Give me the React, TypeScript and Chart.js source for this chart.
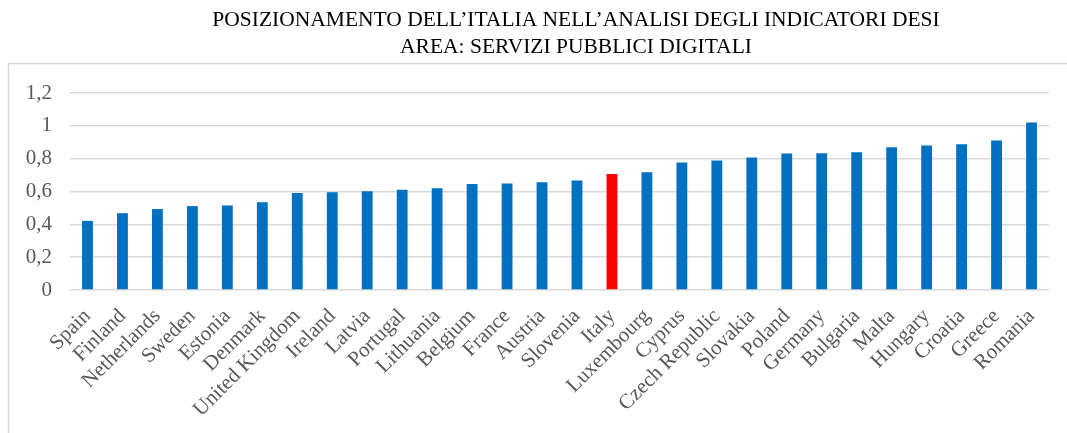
import React, { useEffect, useRef } from "react";
import { Chart, registerables } from "chart.js";

Chart.register(...registerables);

const countries = [
  "Spain", "Finland", "Netherlands", "Sweden", "Estonia", "Denmark",
  "United Kingdom", "Ireland", "Latvia", "Portugal", "Lithuania", "Belgium",
  "France", "Austria", "Slovenia", "Italy", "Luxembourg", "Cyprus",
  "Czech Republic", "Slovakia", "Poland", "Germany", "Bulgaria", "Malta",
  "Hungary", "Croatia", "Greece", "Romania",
];

const values = [
  0.421, 0.468, 0.493, 0.511, 0.515, 0.535,
  0.591, 0.596, 0.602, 0.610, 0.620, 0.645,
  0.649, 0.657, 0.667, 0.706, 0.718, 0.777,
  0.789, 0.807, 0.831, 0.833, 0.839, 0.870,
  0.880, 0.888, 0.910, 1.020,
];

const highlighted = "Italy";
const yMin = 0;
const yMax = 1.2;
const yStep = 0.2;

const titleLines = [
  "POSIZIONAMENTO DELL\u2019ITALIA NELL\u2019ANALISI DEGLI INDICATORI DESI",
  "AREA: SERVIZI PUBBLICI DIGITALI",
];

const FONT = "'Liberation Serif', 'Times New Roman', serif";

const framePlugin = {
  id: "frameAndTitle",
  beforeDraw(chart: any) {
    const ctx = chart.ctx;
    ctx.save();
    ctx.fillStyle = "#ffffff";
    ctx.fillRect(0, 0, chart.width, chart.height);
    ctx.strokeStyle = "#D9D9D9";
    ctx.lineWidth = 1.5;
    ctx.beginPath();
    ctx.moveTo(8.5, chart.height);
    ctx.lineTo(8.5, 63.5);
    ctx.lineTo(chart.width, 63.5);
    ctx.stroke();

    ctx.fillStyle = "#000000";
    ctx.font = `21.5px ${FONT}`;
    ctx.textAlign = "center";
    ctx.textBaseline = "middle";
    const cx = 576;
    ctx.fillText(titleLines[0], cx, 20);
    ctx.fillText(titleLines[1], cx, 47);
    ctx.restore();
  },
};

export default function App() {
  const canvasRef = useRef<HTMLCanvasElement | null>(null);

  useEffect(() => {
    document.body.style.margin = "0";
    const canvas = canvasRef.current;
    if (!canvas) return;
    const chart = new Chart(canvas, {
      type: "bar",
      data: {
        labels: countries,
        datasets: [
          {
            data: values,
            backgroundColor: countries.map((c) => (c === highlighted ? "#FF0000" : "#0070C0")),
            borderWidth: 0,
            barPercentage: 0.31,
            categoryPercentage: 1,
          },
        ],
      },
      options: {
        animation: false,
        responsive: true,
        maintainAspectRatio: false,
        layout: { padding: { top: 93, right: 18, left: 0, bottom: 0 } },
        plugins: {
          legend: { display: false },
          title: { display: false },
          tooltip: { enabled: false },
        },
        scales: {
          y: {
            min: yMin,
            max: yMax,
            afterFit: (scale: any) => {
              scale.width = 70;
            },
            ticks: {
              stepSize: yStep,
              padding: 18,
              color: "#595959",
              font: { family: FONT, size: 21 },
              callback: (v: any) => String(Math.round(Number(v) * 10) / 10).replace(".", ","),
            },
            grid: { color: "#D9D9D9", lineWidth: 1.5, drawTicks: false },
            border: { display: false },
          },
          x: {
            afterFit: (scale: any) => {
              scale.height = 143;
            },
            ticks: {
              autoSkip: false,
              maxRotation: 45,
              minRotation: 45,
              padding: 6,
              color: "#595959",
              font: { family: FONT, size: 21 },
            },
            grid: { display: false },
            border: { display: false },
          },
        },
      },
      plugins: [framePlugin],
    });
    return () => chart.destroy();
  }, []);

  return (
    <div style={{ position: "relative", width: "1067px", height: "433px" }}>
      <canvas ref={canvasRef} />
    </div>
  );
}
